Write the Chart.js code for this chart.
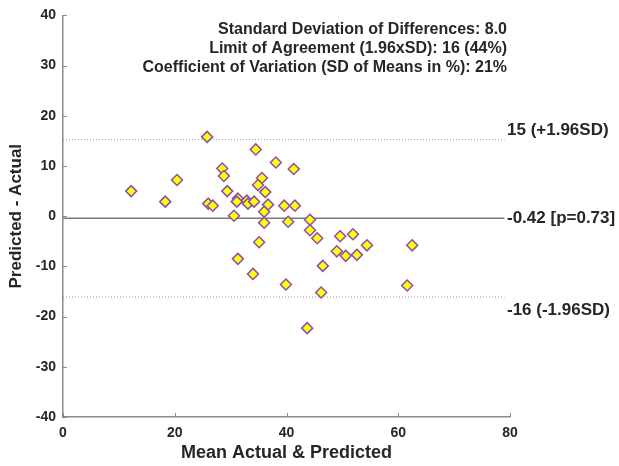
<!DOCTYPE html>
<html>
<head>
<meta charset="utf-8">
<script src="https://cdn.jsdelivr.net/npm/chart.js@4/dist/chart.umd.min.js"></script>
<style>
  html, body { margin: 0; padding: 0; background: #fff; }
  #wrap { width: 619px; height: 466px; }
</style>
</head>
<body>
<div id="wrap"><canvas id="baChart"></canvas></div>
<script>
// Bland-Altman data
const meanVals = [12.2, 18.3, 20.4, 25.8, 26.0, 26.8, 28.5, 28.8, 29.4, 31.3, 31.1, 32.9, 33.1, 34.2, 30.6,
  31.3, 34.5, 38.1, 41.3, 35.6, 34.9, 36.2, 36.7, 36.0, 39.6, 41.5, 36.0, 40.3, 44.2, 44.2,
  45.5, 49.6, 51.9, 54.4, 35.1, 49.0, 50.6, 52.6, 46.5, 34.0, 39.9, 46.2, 43.7, 61.6, 62.5];
const diffVals = [5.0, 2.9, 7.2, 15.8, 2.5, 2.1, 9.5, 8.0, 5.0, 3.5, 2.9, 3.1, 2.5, 2.9, 0.1,
  -8.5, 13.3, 10.7, 9.4, 7.6, 6.2, 4.8, 2.3, 0.9, 2.1, 2.1, -1.3, -1.1, -0.7, -2.8,
  -4.4, -4.0, -3.6, -5.8, -5.2, -7.0, -7.9, -7.7, -9.9, -11.5, -13.6, -15.2, -22.3, -13.8, -5.8];

const meanDiff = -0.42;
const upperLoA = 15.26;
const lowerLoA = -16.1;
const lineSpan = [0, 79];

const xTicks = [0, 20, 40, 60, 80];
const yTicks = [-40, -30, -20, -10, 0, 10, 20, 30, 40];

const statLines = [
    'Standard Deviation of Differences: 8.0',
    'Limit of Agreement (1.96xSD): 16 (44%)',
    'Coefficient of Variation (SD of Means in %): 21%'
];
const lineLabels = ['15 (+1.96SD)', '-0.42 [p=0.73]', '-16 (-1.96SD)'];

const FONT = "'Liberation Sans', Arial, sans-serif";
const TEXT = '#262626';

const points = meanVals.map((x, i) => ({ x: x, y: diffVals[i] }));
const hLine = v => lineSpan.map(x => ({ x: x, y: v }));

// inward ticks, stats box and labels next to the lines
const extrasPlugin = {
    id: 'extras',
    afterDraw(chart) {
        const { ctx, chartArea, scales } = chart;
        ctx.save();
        ctx.strokeStyle = '#8c8c8c';
        ctx.lineWidth = 1;
        xTicks.forEach(v => {
            const px = Math.round(scales.x.getPixelForValue(v)) + 0.5;
            ctx.beginPath();
            ctx.moveTo(px, chartArea.bottom);
            ctx.lineTo(px, chartArea.bottom - 4);
            ctx.stroke();
        });
        yTicks.forEach(v => {
            const py = Math.round(scales.y.getPixelForValue(v)) + 0.5;
            ctx.beginPath();
            ctx.moveTo(chartArea.left, py);
            ctx.lineTo(chartArea.left + 4, py);
            ctx.stroke();
        });

        ctx.fillStyle = TEXT;
        ctx.font = 'bold 16px ' + FONT;
        ctx.textAlign = 'right';
        ctx.textBaseline = 'middle';
        statLines.forEach((t, i) => {
            ctx.fillText(t, chartArea.right - 3, chartArea.top + 14 + i * 19);
        });

        ctx.font = 'bold 17px ' + FONT;
        ctx.textAlign = 'left';
        const lx = chartArea.right - 3;
        ctx.fillText(lineLabels[0], lx, scales.y.getPixelForValue(upperLoA) - 9);
        ctx.fillText(lineLabels[1], lx, scales.y.getPixelForValue(meanDiff));
        ctx.fillText(lineLabels[2], lx, scales.y.getPixelForValue(lowerLoA) + 13);
        ctx.restore();
    }
};

new Chart(document.getElementById('baChart'), {
    type: 'scatter',
    data: {
        datasets: [
            {
                label: 'Mean',
                type: 'line',
                data: hLine(meanDiff),
                borderColor: '#7a7a7a',
                borderWidth: 1.5,
                pointRadius: 0,
                order: 3
            },
            {
                label: '+1.96SD',
                type: 'line',
                data: hLine(upperLoA),
                borderColor: '#9a9a9a',
                borderWidth: 1,
                borderDash: [1, 2],
                pointRadius: 0,
                order: 3
            },
            {
                label: '-1.96SD',
                type: 'line',
                data: hLine(lowerLoA),
                borderColor: '#9a9a9a',
                borderWidth: 1,
                borderDash: [1, 2],
                pointRadius: 0,
                order: 3
            },
            {
                label: 'Differences',
                data: points,
                pointStyle: 'rectRot',
                pointRadius: 5.5,
                pointBackgroundColor: '#ffff00',
                pointBorderColor: '#8a4fb0',
                pointBorderWidth: 1.5,
                order: 1
            }
        ]
    },
    options: {
        responsive: true,
        maintainAspectRatio: false,
        animation: false,
        layout: { padding: { top: 10, right: 109, left: 0, bottom: 0 } },
        plugins: {
            legend: { display: false },
            tooltip: { enabled: false }
        },
        scales: {
            x: {
                type: 'linear',
                min: 0,
                max: 80,
                afterFit: s => { s.height = 49; },
                afterBuildTicks: s => { s.ticks = xTicks.map(v => ({ value: v })); },
                grid: { display: false, drawTicks: false },
                border: { display: true, color: '#8c8c8c', width: 1.5 },
                ticks: { color: TEXT, padding: 8, font: { family: FONT, size: 14, weight: 'bold' } },
                title: {
                    display: true,
                    text: 'Mean Actual & Predicted',
                    color: TEXT,
                    padding: { top: 0, bottom: 2 },
                    font: { family: FONT, size: 18, weight: 'bold' }
                }
            },
            y: {
                type: 'linear',
                min: -40,
                max: 40,
                afterFit: s => { s.width = 63; },
                afterBuildTicks: s => { s.ticks = yTicks.map(v => ({ value: v })); },
                grid: { display: false, drawTicks: false },
                border: { display: true, color: '#8c8c8c', width: 1.5 },
                ticks: { color: TEXT, padding: 7, font: { family: FONT, size: 14, weight: 'bold' } },
                title: {
                    display: true,
                    text: 'Predicted - Actual',
                    color: TEXT,
                    padding: { top: 6, bottom: 0 },
                    font: { family: FONT, size: 17, weight: 'bold' }
                }
            }
        }
    },
    plugins: [extrasPlugin]
});
</script>
</body>
</html>
